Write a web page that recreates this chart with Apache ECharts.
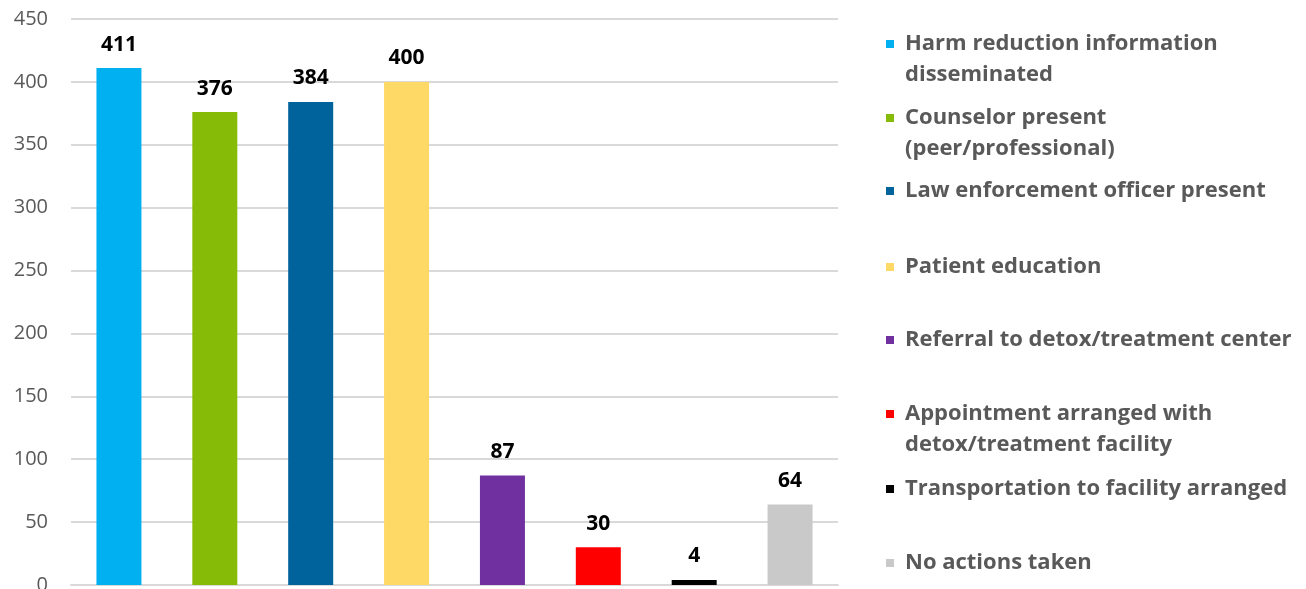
<!DOCTYPE html>
<html><head><meta charset="utf-8">
<script src="https://cdn.jsdelivr.net/npm/echarts@6/dist/echarts.min.js"></script>
<style>html,body{margin:0;padding:0;background:#fff}#c{width:1306px;height:589px}</style>
</head><body><div id="c"></div>
<script>
const categories = [
  "Harm reduction information disseminated",
  "Counselor present (peer/professional)",
  "Law enforcement officer present",
  "Patient education",
  "Referral to detox/treatment center",
  "Appointment arranged with detox/treatment facility",
  "Transportation to facility arranged",
  "No actions taken"
];
const legendLine1 = [
  "Harm reduction information",
  "Counselor present",
  "Law enforcement officer present",
  "Patient education",
  "Referral to detox/treatment center",
  "Appointment arranged with",
  "Transportation to facility arranged",
  "No actions taken"
];
const legendLine2 = ["disseminated", "(peer/professional)", "", "", "", "detox/treatment facility", "", ""];
const values = [411, 376, 384, 400, 87, 30, 4, 64];
const colors = ["#00B0F0", "#86BC07", "#00639B", "#FFD966", "#7030A0", "#FF0000", "#000000", "#C9C9C9"];
const yTicks = [0, 50, 100, 150, 200, 250, 300, 350, 400, 450];
const legendCenters = [44, 118, 191, 267, 340, 414, 489, 563];

const FONT = "'Open Sans', sans-serif";
const series = categories.map((name, i) => ({
  name: name,
  type: 'bar',
  barWidth: 45,
  barGap: '-100%',
  itemStyle: { color: colors[i] },
  label: { show: true, position: 'top', distance: 13, color: '#000', fontWeight: 'bold', fontSize: 21, fontFamily: FONT },
  data: categories.map((c, j) => j === i ? values[i] : '-')
}));

const legends = categories.map((name, i) => ({
  data: [name],
  left: 886,
  top: legendCenters[i] - 14,
  padding: 0,
  orient: 'vertical',
  icon: 'rect',
  itemWidth: 8,
  itemHeight: 8,
  selectedMode: false,
  formatter: () => legendLine1[i],
  textStyle: { color: '#595959', fontWeight: 'bold', fontSize: 22, fontFamily: FONT, lineHeight: 28, padding: [0, 0, 0, 6] }
}));

const graphics = [];
legendLine2.forEach((t, i) => {
  if (t) graphics.push({
    type: 'text', left: 905, top: legendCenters[i] + 31 - 14,
    style: { text: t, fill: '#595959', font: 'bold 22px ' + FONT, lineHeight: 28 }
  });
});

const chart = echarts.init(document.getElementById('c'));
chart.setOption({
  animation: false,
  grid: { left: 71, right: 468, top: 19, bottom: 4, containLabel: false, outerBoundsMode: 'none' },
  legend: legends,
  graphic: graphics,
  xAxis: {
    type: 'category', data: categories,
    axisLine: { show: true, lineStyle: { color: '#D9D9D9', width: 2 } },
    axisTick: { show: false }, axisLabel: { show: false }
  },
  yAxis: {
    type: 'value', min: 0, max: 450, interval: 50,
    axisLine: { show: false }, axisTick: { show: false },
    axisLabel: { color: '#595959', fontSize: 20, fontFamily: FONT, margin: 23, formatter: v => yTicks.includes(v) ? String(v) : '' },
    splitLine: { lineStyle: { color: '#D9D9D9', width: 2 } }
  },
  series: series
});
</script></body></html>
